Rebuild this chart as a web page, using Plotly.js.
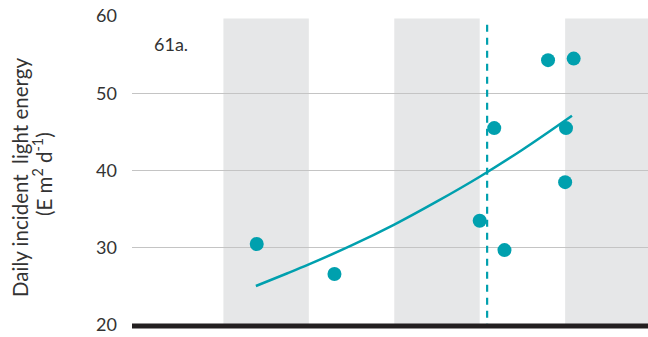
<!DOCTYPE html>
<html>
<head>
<meta charset="utf-8">
<script src="https://cdn.plot.ly/plotly-3.0.1.min.js"></script>
<style>html,body{margin:0;padding:0;background:#fff;}#chart{width:648px;height:337px;}</style>
</head>
<body>
<div id="chart"></div>
<script>
// Observations (x in period units, y = daily incident light energy)
const pointX = [1.39, 2.30, 4.00, 4.17, 4.29, 4.80, 5.10, 5.01, 5.00];
const pointY = [30.5, 26.6, 33.5, 45.5, 29.7, 54.3, 54.5, 45.5, 38.5];
// Fitted trend curve
const curveX = [1.38, 1.75, 2.0, 2.5, 3.0, 3.5, 4.0, 4.5, 5.08];
const curveY = [25.05, 26.7, 27.85, 30.3, 33.0, 36.0, 39.2, 42.7, 47.1];
// Shaded periods
const bandStart = [1, 3, 5];
const bandEnd = [2, 4, 6];
// Vertical marker
const markerX = 4.087;
const markerTop = 58.9;
const yTicks = [20, 30, 40, 50, 60];
const panelLabel = "61a.";

const teal = "#00a0ae";
const textColor = "#333333";
const font = "Lato, 'Open Sans', sans-serif";

const shapes = [];
bandStart.forEach((s, i) => {
  shapes.push({type: "rect", xref: "x", yref: "y", x0: s, x1: bandEnd[i], y0: 20, y1: 59.7,
    fillcolor: "#e6e7e8", line: {width: 0}, layer: "below"});
});
shapes.push({type: "line", xref: "x", yref: "y", x0: markerX, x1: markerX, y0: markerTop, y1: 20,
  line: {color: teal, width: 2.2, dash: "7px,6px"}});
shapes.push({type: "line", xref: "paper", yref: "paper", x0: 0, x1: 1, y0: -0.003, y1: -0.003,
  line: {color: "#231f20", width: 5}});

const traces = [
  {x: curveX, y: curveY, mode: "lines", line: {color: teal, width: 2.5, shape: "spline", smoothing: 1}, hoverinfo: "skip"},
  {x: pointX, y: pointY, mode: "markers", marker: {color: teal, size: 14}}
];

const layout = {
  width: 648, height: 337,
  margin: {l: 132, r: 0, t: 16, b: 12},
  paper_bgcolor: "#fff", plot_bgcolor: "rgba(0,0,0,0)",
  showlegend: false,
  font: {family: font, color: textColor},
  xaxis: {range: [-0.07, 5.97], showgrid: false, zeroline: false, showticklabels: false, ticks: "", showline: false, fixedrange: true},
  yaxis: {range: [20, 60.02], tickvals: yTicks, ticktext: yTicks.map(String), showgrid: true, gridcolor: "#c4c4c4", gridwidth: 1,
    zeroline: false, showline: false, ticks: "", ticklabelstandoff: 14, tickfont: {size: 18, color: textColor, family: font}},
  shapes: shapes,
  annotations: [
    {text: panelLabel, xref: "paper", yref: "paper", x: 0.038, y: 0.909, xanchor: "left", yanchor: "middle",
      showarrow: false, font: {size: 18, color: textColor, family: font}},
    {text: "Daily incident\u00a0 light energy", xref: "paper", yref: "paper", x: (20 - 132) / 516, y: (325 - 178) / 309,
      xanchor: "center", yanchor: "middle", textangle: -90, showarrow: false, font: {size: 20.5, color: textColor, family: font}},
    {text: "(E m<sup>2</sup> d<sup>-1</sup>)", xref: "paper", yref: "paper", x: (43 - 132) / 516, y: (325 - 174) / 309,
      xanchor: "center", yanchor: "middle", textangle: -90, showarrow: false, font: {size: 20.5, color: textColor, family: font}}
  ]
};

Plotly.newPlot("chart", traces, layout, {staticPlot: true, displayModeBar: false});
</script>
</body>
</html>
